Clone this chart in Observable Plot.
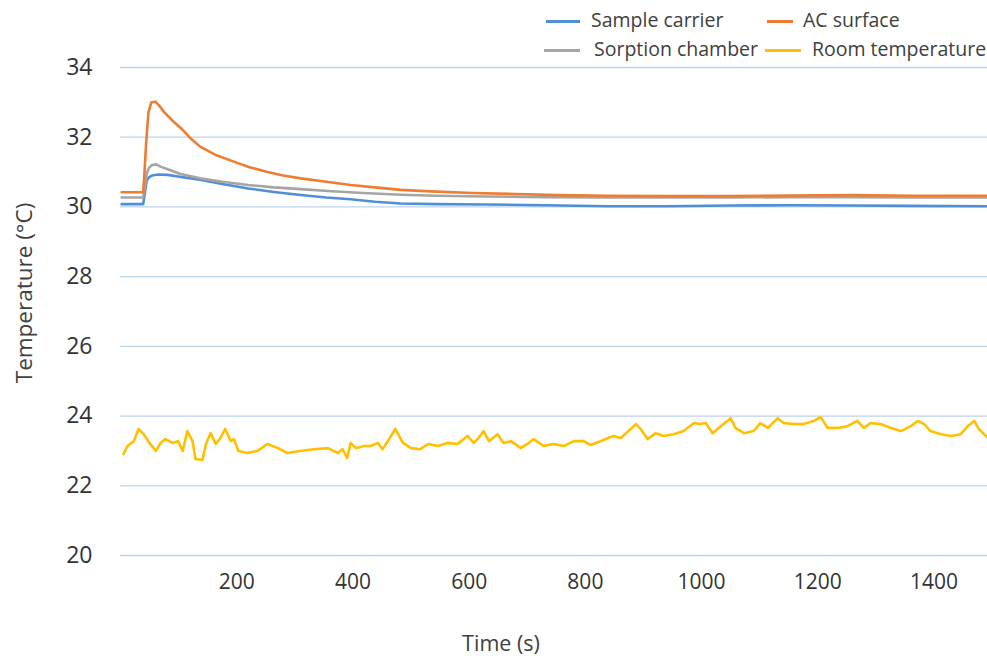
<!DOCTYPE html>
<html>
<head>
<meta charset="utf-8">
<script src="https://cdn.jsdelivr.net/npm/d3@7"></script>
<script src="https://cdn.jsdelivr.net/npm/@observablehq/plot@0.6"></script>
<style>
  html, body { margin: 0; padding: 0; background: #fff; }
  #wrap { position: relative; width: 987px; height: 656px; overflow: hidden; font-family: "Open Sans", sans-serif; color: #404040; }
  #chart { position: absolute; left: 0; top: 0; }
  .leg { position: absolute; font-size: 19.5px; line-height: 22px; white-space: nowrap; }
  .sw { position: absolute; height: 2.5px; }
</style>
</head>
<body>
<div id="wrap">
  <div id="chart"></div>
</div>
<script>
// ---- Data ----
const seriesNames = ["Sample carrier", "AC surface", "Sorption chamber", "Room temperature"];
const seriesColors = ["#4f8fd6", "#ed7d31", "#a5a5a5", "#ffc000"];

const sampleT = [2,39,42,45,49,54,65,81,96,112,137,175,220,264,310,354,396,438,482,543,630,730,840,940,1050,1150,1260,1360,1492];
const sampleV = [30.08,30.08,30.4,30.75,30.85,30.9,30.93,30.92,30.88,30.84,30.78,30.66,30.53,30.43,30.34,30.27,30.22,30.15,30.1,30.08,30.07,30.05,30.02,30.02,30.04,30.05,30.04,30.03,30.02];

const acT = [2,39,41,44,48,53,60,66,75,91,104,120,137,165,195,222,253,280,310,354,396,438,482,543,606,679,753,837,942,1047,1152,1257,1362,1492];
const acV = [30.42,30.42,30.9,31.8,32.7,33.0,33.02,32.92,32.72,32.45,32.26,31.98,31.73,31.48,31.3,31.14,31.0,30.9,30.82,30.72,30.63,30.56,30.49,30.44,30.4,30.37,30.34,30.32,30.31,30.31,30.33,30.34,30.32,30.32];

const chamberT = [2,39,42,45,49,54,61,70,86,102,137,175,220,264,310,364,417,482,543,627,732,837,942,1047,1152,1257,1362,1492];
const chamberV = [30.27,30.27,30.6,30.95,31.12,31.2,31.22,31.15,31.05,30.95,30.82,30.72,30.63,30.56,30.51,30.45,30.4,30.35,30.32,30.3,30.28,30.27,30.27,30.27,30.28,30.28,30.27,30.27];

const roomT = [5,12,23,31,40,51,61,69,77,90,99,107,115,124,129,141,147,155,164,172,180,190,195,203,218,236,253,271,287,309,333,357,374,382,390,396,405,419,430,443,451,460,473,486,500,516,530,546,563,580,597,608,616,625,634,649,659,672,689,700,711,728,745,763,780,797,809,826,848,861,878,887,895,907,921,934,952,969,987,998,1007,1019,1033,1050,1058,1073,1090,1101,1114,1131,1141,1159,1176,1193,1205,1217,1235,1251,1268,1279,1291,1308,1326,1343,1360,1372,1383,1394,1412,1429,1446,1458,1469,1477,1493];
const roomV = [22.91,23.14,23.28,23.63,23.48,23.2,23.0,23.23,23.34,23.23,23.28,23.0,23.57,23.28,22.77,22.74,23.2,23.51,23.2,23.37,23.63,23.28,23.34,23.0,22.94,23.0,23.2,23.08,22.94,23.0,23.05,23.08,22.94,23.05,22.8,23.23,23.08,23.14,23.14,23.23,23.05,23.28,23.63,23.23,23.08,23.05,23.2,23.14,23.23,23.2,23.43,23.23,23.37,23.57,23.28,23.48,23.23,23.28,23.08,23.2,23.34,23.14,23.2,23.14,23.28,23.28,23.17,23.28,23.43,23.37,23.63,23.77,23.63,23.34,23.51,23.43,23.48,23.57,23.8,23.77,23.8,23.51,23.71,23.94,23.66,23.51,23.57,23.8,23.66,23.94,23.8,23.77,23.77,23.86,23.97,23.66,23.66,23.71,23.86,23.66,23.8,23.77,23.66,23.57,23.71,23.86,23.77,23.57,23.48,23.43,23.48,23.71,23.86,23.63,23.37];

const xTicks = [200, 400, 600, 800, 1000, 1200, 1400];
const yTicks = [20, 22, 24, 26, 28, 30, 32, 34];

// tidy table built from arrays
const allT = [sampleT, acT, chamberT, roomT];
const allV = [sampleV, acV, chamberV, roomV];
const rows = [];
// draw order: room first, then sample, chamber, ac
[3, 0, 2, 1].forEach(i => {
  allT[i].forEach((t, j) => rows.push({series: seriesNames[i], t, v: allV[i][j]}));
});

const chart = Plot.plot({
  width: 987,
  height: 656,
  marginTop: 67,
  marginBottom: 101,
  marginLeft: 120,
  marginRight: 0,
  style: { fontFamily: "Open Sans, sans-serif", fontSize: "21px", color: "#404040", background: "transparent" },
  x: { domain: [0, 1492], label: null },
  y: { domain: [20, 34], label: null },
  color: { domain: seriesNames, range: seriesColors },
  marks: [
    Plot.gridY(yTicks, { stroke: "#bcd3ec", strokeOpacity: 1, strokeWidth: 1.3 }),
    Plot.axisY({ ticks: yTicks, tickSize: 0, tickPadding: 28, fontSize: 23, fill: "#333", label: null }),
    Plot.axisX({ ticks: xTicks, tickSize: 0, tickPadding: 19, fontSize: 21, fill: "#333", label: null,
      tickFormat: d => String(d) }),
    Plot.line(rows, { x: "t", y: "v", z: "series", stroke: "series", strokeWidth: 2.6, curve: "linear" })
  ]
});
document.getElementById("chart").appendChild(chart);

// ---- Legend & titles (HTML) ----
const wrap = document.getElementById("wrap");
const legendPos = [
  { i: 0, lx: 546, lw: 34, ly: 21, tx: 591 },
  { i: 1, lx: 767, lw: 26, ly: 21, tx: 803 },
  { i: 2, lx: 544, lw: 36, ly: 50, tx: 594 },
  { i: 3, lx: 765, lw: 36, ly: 50, tx: 812 }
];
legendPos.forEach(p => {
  const s = document.createElement("div");
  s.className = "sw";
  s.style.left = p.lx + "px"; s.style.top = (p.ly - 1) + "px"; s.style.width = p.lw + "px";
  s.style.background = seriesColors[p.i];
  wrap.appendChild(s);
  const t = document.createElement("div");
  t.className = "leg";
  t.style.left = p.tx + "px"; t.style.top = (p.ly - 12) + "px";
  t.textContent = seriesNames[p.i];
  wrap.appendChild(t);
});

const ytitle = document.createElement("div");
ytitle.className = "leg";
ytitle.textContent = "Temperature (°C)";
ytitle.style.fontSize = "22.5px";
ytitle.style.left = "24px"; ytitle.style.top = "293px";
ytitle.style.transform = "translate(-50%, -50%) rotate(-90deg)";
wrap.appendChild(ytitle);

const xtitle = document.createElement("div");
xtitle.className = "leg";
xtitle.textContent = "Time (s)";
xtitle.style.fontSize = "21.5px";
xtitle.style.left = "501px"; xtitle.style.top = "643px";
xtitle.style.transform = "translate(-50%, -50%)";
wrap.appendChild(xtitle);
</script>
</body>
</html>
